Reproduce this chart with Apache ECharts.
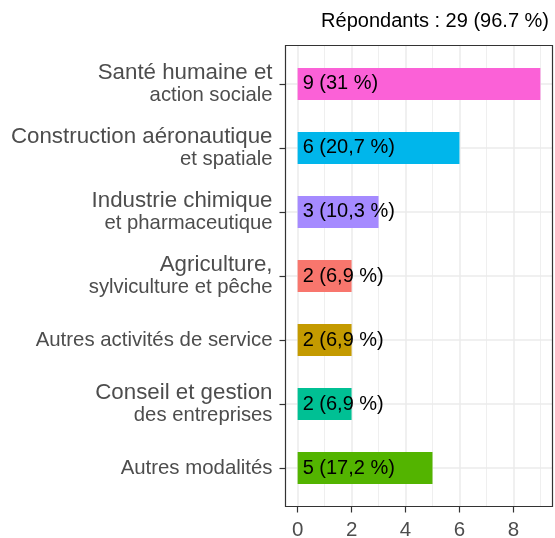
<!DOCTYPE html>
<html>
<head>
<meta charset="utf-8">
<script src="https://cdn.jsdelivr.net/npm/echarts@6.0.0/dist/echarts.min.js"></script>
<style>
html, body { margin: 0; padding: 0; background: #fff; }
#main { width: 555px; height: 538px; }
</style>
</head>
<body>
<div id="main"></div>
<script>
// donnees
var categories = [
    'Santé humaine et\naction sociale',
    'Construction aéronautique\net spatiale',
    'Industrie chimique\net pharmaceutique',
    'Agriculture,\nsylviculture et pêche',
    'Autres activités de service',
    'Conseil et gestion\ndes entreprises',
    'Autres modalités'
];
var effectifs = [9, 6, 3, 2, 2, 2, 5];
var pourcents = [31, 20.7, 10.3, 6.9, 6.9, 6.9, 17.2];
var xTicks = [0, 2, 4, 6, 8];
var titre = 'Répondants : 29 (96.7 %)';

var couleurs = ['#FB61D7', '#00B6EB', '#A58AFF', '#F8766D', '#C49A00', '#00C094', '#53B400'];
var police = 'Liberation Sans, Arial, sans-serif';

// cadre du panneau (facon ggplot, expansion 0.45 en x, 0.6 en y)
var pLeft = 285.5, pTop = 45.5, pW = 267, pH = 461;
var ux = pW / 9.9;
var uy = pH / 7.2;

var dom = document.getElementById('main');
var myChart = echarts.init(dom);

var option = {
    backgroundColor: '#fff',
    animation: false,
    title: {
        text: titre,
        right: 6,
        top: 11,
        padding: 0,
        textStyle: { fontSize: 20, fontWeight: 'normal', color: '#000', fontFamily: police }
    },
    grid: [
        // lignes verticales + axe x
        { left: pLeft + 0.45 * ux, top: pTop, width: 10 * ux, height: pH, outerBoundsMode: 'none', containLabel: false },
        // lignes horizontales
        { left: pLeft, top: pTop + 0.6 * uy, width: pW, height: 6 * uy, outerBoundsMode: 'none', containLabel: false },
        // barres + etiquettes y
        { left: pLeft, top: pTop + 0.1 * uy, width: pW, height: 7 * uy, outerBoundsMode: 'none', containLabel: false },
        // bordure
        { left: pLeft, top: pTop, width: pW, height: pH, show: true, z: 5, backgroundColor: 'transparent',
          borderColor: '#333333', borderWidth: 1.2, outerBoundsMode: 'none', containLabel: false }
    ],
    xAxis: [{
        type: 'value',
        gridIndex: 0,
        min: 0,
        max: 10,
        interval: 2,
        axisLine: { show: false, onZero: false },
        axisTick: { show: true, length: 6, lineStyle: { color: '#333333', width: 1.2 } },
        axisLabel: {
            color: '#4d4d4d', fontSize: 20.5, margin: 13, fontFamily: police,
            formatter: function (v) { return xTicks.indexOf(v) >= 0 ? String(v) : ''; }
        },
        splitLine: { show: true, lineStyle: { color: '#ebebeb', width: 1.5 } },
        minorTick: { show: false, splitNumber: 2 },
        minorSplitLine: { show: true, lineStyle: { color: '#ebebeb', width: 0.8 } }
    }, {
        type: 'value', gridIndex: 1, show: false, min: 0, max: 1
    }, {
        type: 'value', gridIndex: 2, show: false, min: -0.45, max: 9.45
    }, {
        type: 'value', gridIndex: 3, show: false, min: 0, max: 1
    }],
    yAxis: [{
        type: 'value', gridIndex: 0, show: false, min: 0, max: 1
    }, {
        type: 'value',
        gridIndex: 1,
        inverse: true,
        min: 0,
        max: categories.length - 1,
        interval: 1,
        axisLine: { show: false, onZero: false },
        axisTick: { show: false },
        axisLabel: { show: false },
        splitLine: { show: true, lineStyle: { color: '#ebebeb', width: 1.5 } }
    }, {
        type: 'category',
        gridIndex: 2,
        inverse: true,
        data: categories,
        axisLine: { show: false, onZero: false },
        axisTick: { show: true, inside: false, alignWithLabel: true, length: 6, lineStyle: { color: '#333333', width: 1.2 } },
        axisLabel: {
            color: '#4d4d4d', fontSize: 20, margin: 13, fontFamily: police,
            align: 'right', interval: 0,
            // dans l'original la 1re ligne des libelles coupes est un peu plus grande
            formatter: function (v) {
                var l = v.split('\n');
                if (l.length === 1) return '{s|' + v + '}';
                return '{a|' + l[0] + '}\n{b|' + l[1] + '}';
            },
            rich: {
                a: { fontSize: 22.3, lineHeight: 22, color: '#4d4d4d', fontFamily: police, align: 'right' },
                b: { fontSize: 20.3, lineHeight: 22, color: '#4d4d4d', fontFamily: police, align: 'right' },
                s: { fontSize: 20.4, lineHeight: 22, color: '#4d4d4d', fontFamily: police, align: 'right' }
            }
        },
        splitLine: { show: false }
    }, {
        type: 'value', gridIndex: 3, show: false, min: 0, max: 1
    }],
    series: [{
        type: 'bar',
        xAxisIndex: 2,
        yAxisIndex: 2,
        barWidth: uy * 0.5,
        silent: true,
        data: effectifs.map(function (v, i) {
            return { value: v, itemStyle: { color: couleurs[i] } };
        }),
        label: {
            show: true,
            position: 'insideLeft',
            distance: 5,
            color: '#000',
            fontSize: 20,
            fontFamily: police,
            formatter: function (p) {
                return effectifs[p.dataIndex] + ' (' + String(pourcents[p.dataIndex]).replace('.', ',') + ' %)';
            }
        }
    }]
};
myChart.setOption(option, true);
window.onresize = myChart.resize;
</script>
</body>
</html>
